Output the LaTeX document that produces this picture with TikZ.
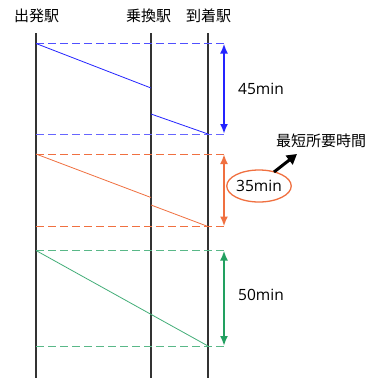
\documentclass[tikz,border=0pt]{standalone}
\usepackage{fontspec}
\setmainfont{Noto Sans CJK JP}
\newfontfamily\latf{Open Sans}
\usetikzlibrary{arrows.meta,shapes.geometric}
\definecolor{cb}{HTML}{2424FF}
\definecolor{co}{HTML}{F07040}
\definecolor{cg}{HTML}{22A060}
\begin{document}
\begin{tikzpicture}[x=1pt,y=-1pt,
  station/.style={draw=black!80,line width=1.5pt},
  guide/.style={line width=0.8pt,dash pattern=on 8pt off 4pt},
  route/.style={line width=0.8pt},
  span/.style={line width=2pt,{Latex[length=10pt,width=8pt]}-{Latex[length=10pt,width=8pt]}},
  jlabel/.style={font=\fontsize{15}{18}\selectfont,inner sep=0pt},
  mlabel/.style={font=\latf\fontsize{15.5}{18}\selectfont,inner sep=0pt}]
\useasboundingbox (0,0) rectangle (367,378);
\fill[white] (0,0) rectangle (367,378);
% station labels
\node[jlabel] (s1) at (36.5,16) {出発駅};
\node[jlabel] (s2) at (148.5,16) {乗換駅};
\node[jlabel] (s3) at (208.5,16) {到着駅};
% station lines
\coordinate (a1) at (36,33); \coordinate (a2) at (36,378);
\coordinate (b1) at (151,33); \coordinate (b2) at (151,378);
\coordinate (c1) at (208,33); \coordinate (c2) at (208,378);
\draw[station] (a1) -- (a2);
\draw[station] (b1) -- (b2);
\draw[station] (c1) -- (c2);
% blue
\coordinate (bt0) at (36,43.5); \coordinate (bt1) at (224,43.5);
\coordinate (bb0) at (36,134); \coordinate (bb1) at (224,134);
\coordinate (bm1) at (151,88); \coordinate (bm2) at (151,114); \coordinate (be) at (208,134);
\draw[guide,cb!80] (bt0) -- (bt1);
\draw[guide,cb!70] (bb0) -- (bb1);
\draw[route,cb] (bt0) -- (bm1);
\draw[route,cb] (bm2) -- (be);
\draw[span,cb] (bt1) -- (bb1);
\node[mlabel] (m45) at (261,89) {45min};
% orange
\coordinate (ot0) at (36,154); \coordinate (ot1) at (224,154);
\coordinate (ob0) at (36,226.5); \coordinate (ob1) at (224,226.5);
\coordinate (om1) at (151,197.5); \coordinate (om2) at (151,205); \coordinate (oe) at (208,226.5);
\draw[guide,co] (ot0) -- (ot1);
\draw[guide,co] (ob0) -- (ob1);
\draw[route,co] (ot0) -- (om1);
\draw[route,co] (om2) -- (oe);
\draw[span,co] (ot1) -- (ob1);
\node[mlabel,ellipse,draw=co,line width=1.3pt,minimum width=62pt,minimum height=32pt] (m35) at (259,186) {35min};
\node[jlabel] (best) at (321,141) {最短所要時間};
\coordinate (ks) at (274,172);
\coordinate (kt) at (297,154);
\draw[line width=3pt,-{Triangle[length=10pt,width=11pt]}] (ks) -- (kt);
% green
\coordinate (gt0) at (36,250.5); \coordinate (gt1) at (224,250.5);
\coordinate (gb0) at (36,346); \coordinate (gb1) at (224,346);
\coordinate (ge) at (208,346);
\draw[guide,cg!75] (gt0) -- (gt1);
\draw[guide,cg!75] (gb0) -- (gb1);
\draw[route,cg!85] (gt0) -- (ge);
\draw[span,cg] (gt1) -- (gb1);
\node[mlabel] (m50) at (261,295) {50min};
\end{tikzpicture}
\end{document}
